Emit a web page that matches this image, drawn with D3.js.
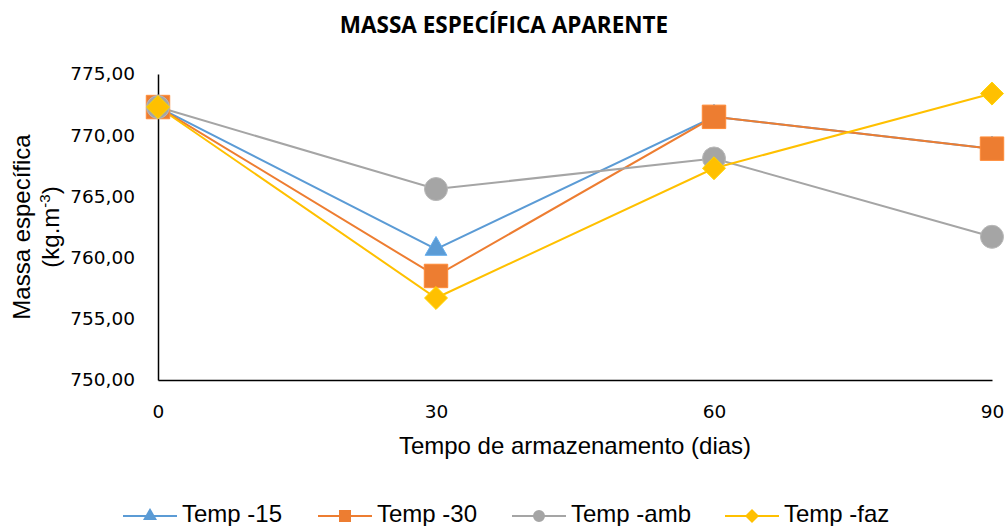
<!DOCTYPE html>
<html>
<head>
  <meta charset="utf-8">
  <script src="https://d3js.org/d3.v7.min.js"></script>
  <style>
    body { margin: 0; background: #fff; }
  </style>
</head>
<body>
  <div id="my_dataviz"></div>
  <script>
    var days = [0, 30, 60, 90];
    var yTicks = [750, 755, 760, 765, 770, 775];
    var seriesNames = ["Temp -15", "Temp -30", "Temp -amb", "Temp -faz"];
    var temp15 = [772.3, 760.7, 771.5, 768.9];
    var temp30 = [772.3, 758.5, 771.5, 768.9];
    var tempAmb = [772.3, 765.6, 768.1, 761.7];
    var tempFaz = [772.3, 756.7, 767.3, 773.4];
    var colors = ["#5B9BD5", "#ED7D31", "#A5A5A5", "#FFC000"];

    // square rotated 45 degrees, like the spreadsheet diamond
    var diamond = {
      draw: function (ctx, size) {
        var r = Math.sqrt(size / 2);
        ctx.moveTo(0, -r); ctx.lineTo(r, 0); ctx.lineTo(0, r); ctx.lineTo(-r, 0); ctx.closePath();
      }
    };
    var shapes = [d3.symbolTriangle, d3.symbolSquare, d3.symbolCircle, diamond];
    var sizes = [205, 550, 415, 264];
    var legSizes = [85, 144, 113, 98];

    var allSeries = [temp15, temp30, tempAmb, tempFaz];

    var W = 1008, H = 526;
    var margin = { top: 74, right: 16, bottom: 146, left: 158 };
    var width = W - margin.left - margin.right,
      height = H - margin.top - margin.bottom;

    var svg = d3.select("#my_dataviz")
      .append("svg")
      .attr("width", W)
      .attr("height", H);

    var g = svg.append("g")
      .attr("transform", "translate(" + margin.left + "," + margin.top + ")");

    var x = d3.scaleLinear().domain([0, 90]).range([0, width]);
    var y = d3.scaleLinear().domain([750, 775]).range([height, 0]);

    // title
    svg.append("text")
      .attr("x", 504).attr("y", 33)
      .attr("text-anchor", "middle")
      .style("font-family", "'Open Sans', sans-serif")
      .style("font-weight", "bold")
      .style("font-size", "22.5px")
      .text("MASSA ESPECÍFICA APARENTE");

    // axes
    var yAxis = g.append("g")
      .call(d3.axisLeft(y).tickValues(yTicks).tickSize(0).tickPadding(23)
        .tickFormat(function (d) { return d3.format(".2f")(d).replace(".", ","); }));
    yAxis.select(".domain").attr("stroke", "#000").attr("stroke-width", 1.5);
    yAxis.selectAll("text")
      .style("font-family", "'DejaVu Sans', Verdana, sans-serif")
      .style("font-size", "18.5px")
      .attr("fill", "#000");

    var xAxis = g.append("g")
      .attr("transform", "translate(0," + height + ")")
      .call(d3.axisBottom(x).tickValues(days).tickSize(0).tickPadding(25));
    xAxis.select(".domain").attr("stroke", "#000").attr("stroke-width", 1.5);
    xAxis.selectAll("text")
      .style("font-family", "'DejaVu Sans', Verdana, sans-serif")
      .style("font-size", "18.5px")
      .attr("fill", "#000");

    // axis titles
    svg.append("text")
      .attr("x", 575).attr("y", 454)
      .attr("text-anchor", "middle")
      .style("font-family", "'Liberation Sans', Arial, sans-serif")
      .style("font-size", "24px")
      .text("Tempo de armazenamento (dias)");

    var yt = svg.append("text")
      .attr("transform", "translate(0,227) rotate(-90)")
      .attr("text-anchor", "middle")
      .style("font-family", "'Liberation Sans', Arial, sans-serif")
      .style("font-size", "24px");
    yt.append("tspan").attr("x", 0).attr("y", 30).text("Massa específica");
    yt.append("tspan").attr("x", 0).attr("y", 59).text("(kg.m")
      .append("tspan").attr("dy", -9).style("font-size", "15px").text("-3")
      .append("tspan").attr("dy", 9).style("font-size", "24px").text(")");

    // lines and markers
    var line = d3.line()
      .x(function (d, i) { return x(days[i]); })
      .y(function (d) { return y(d); });

    allSeries.forEach(function (s, k) {
      g.append("path")
        .datum(s)
        .attr("fill", "none")
        .attr("stroke", colors[k])
        .attr("stroke-width", 2)
        .attr("d", line);
    });

    allSeries.forEach(function (s, k) {
      g.selectAll(".m" + k)
        .data(s)
        .enter()
        .append("path")
        .attr("class", "m" + k)
        .attr("transform", function (d, i) { return "translate(" + x(days[i]) + "," + y(d) + ")"; })
        .attr("d", d3.symbol().type(shapes[k]).size(sizes[k]))
        .attr("fill", colors[k])
        .attr("stroke", d3.color(colors[k]).brighter(0.3))
        .attr("stroke-width", 1);
    });

    // legend
    var legX = [123, 318, 512, 725];
    seriesNames.forEach(function (name, k) {
      var lg = svg.append("g").attr("transform", "translate(" + legX[k] + ",516)");
      lg.append("line").attr("x1", 0).attr("x2", 54).attr("y1", 0).attr("y2", 0)
        .attr("stroke", colors[k]).attr("stroke-width", 2);
      lg.append("path").attr("transform", "translate(27,0)")
        .attr("d", d3.symbol().type(shapes[k]).size(legSizes[k]))
        .attr("fill", colors[k]);
      lg.append("text").attr("x", 59).attr("y", 6)
        .style("font-family", "'Liberation Sans', Arial, sans-serif")
        .style("font-size", "24px")
        .text(name);
    });
  </script>
</body>
</html>
